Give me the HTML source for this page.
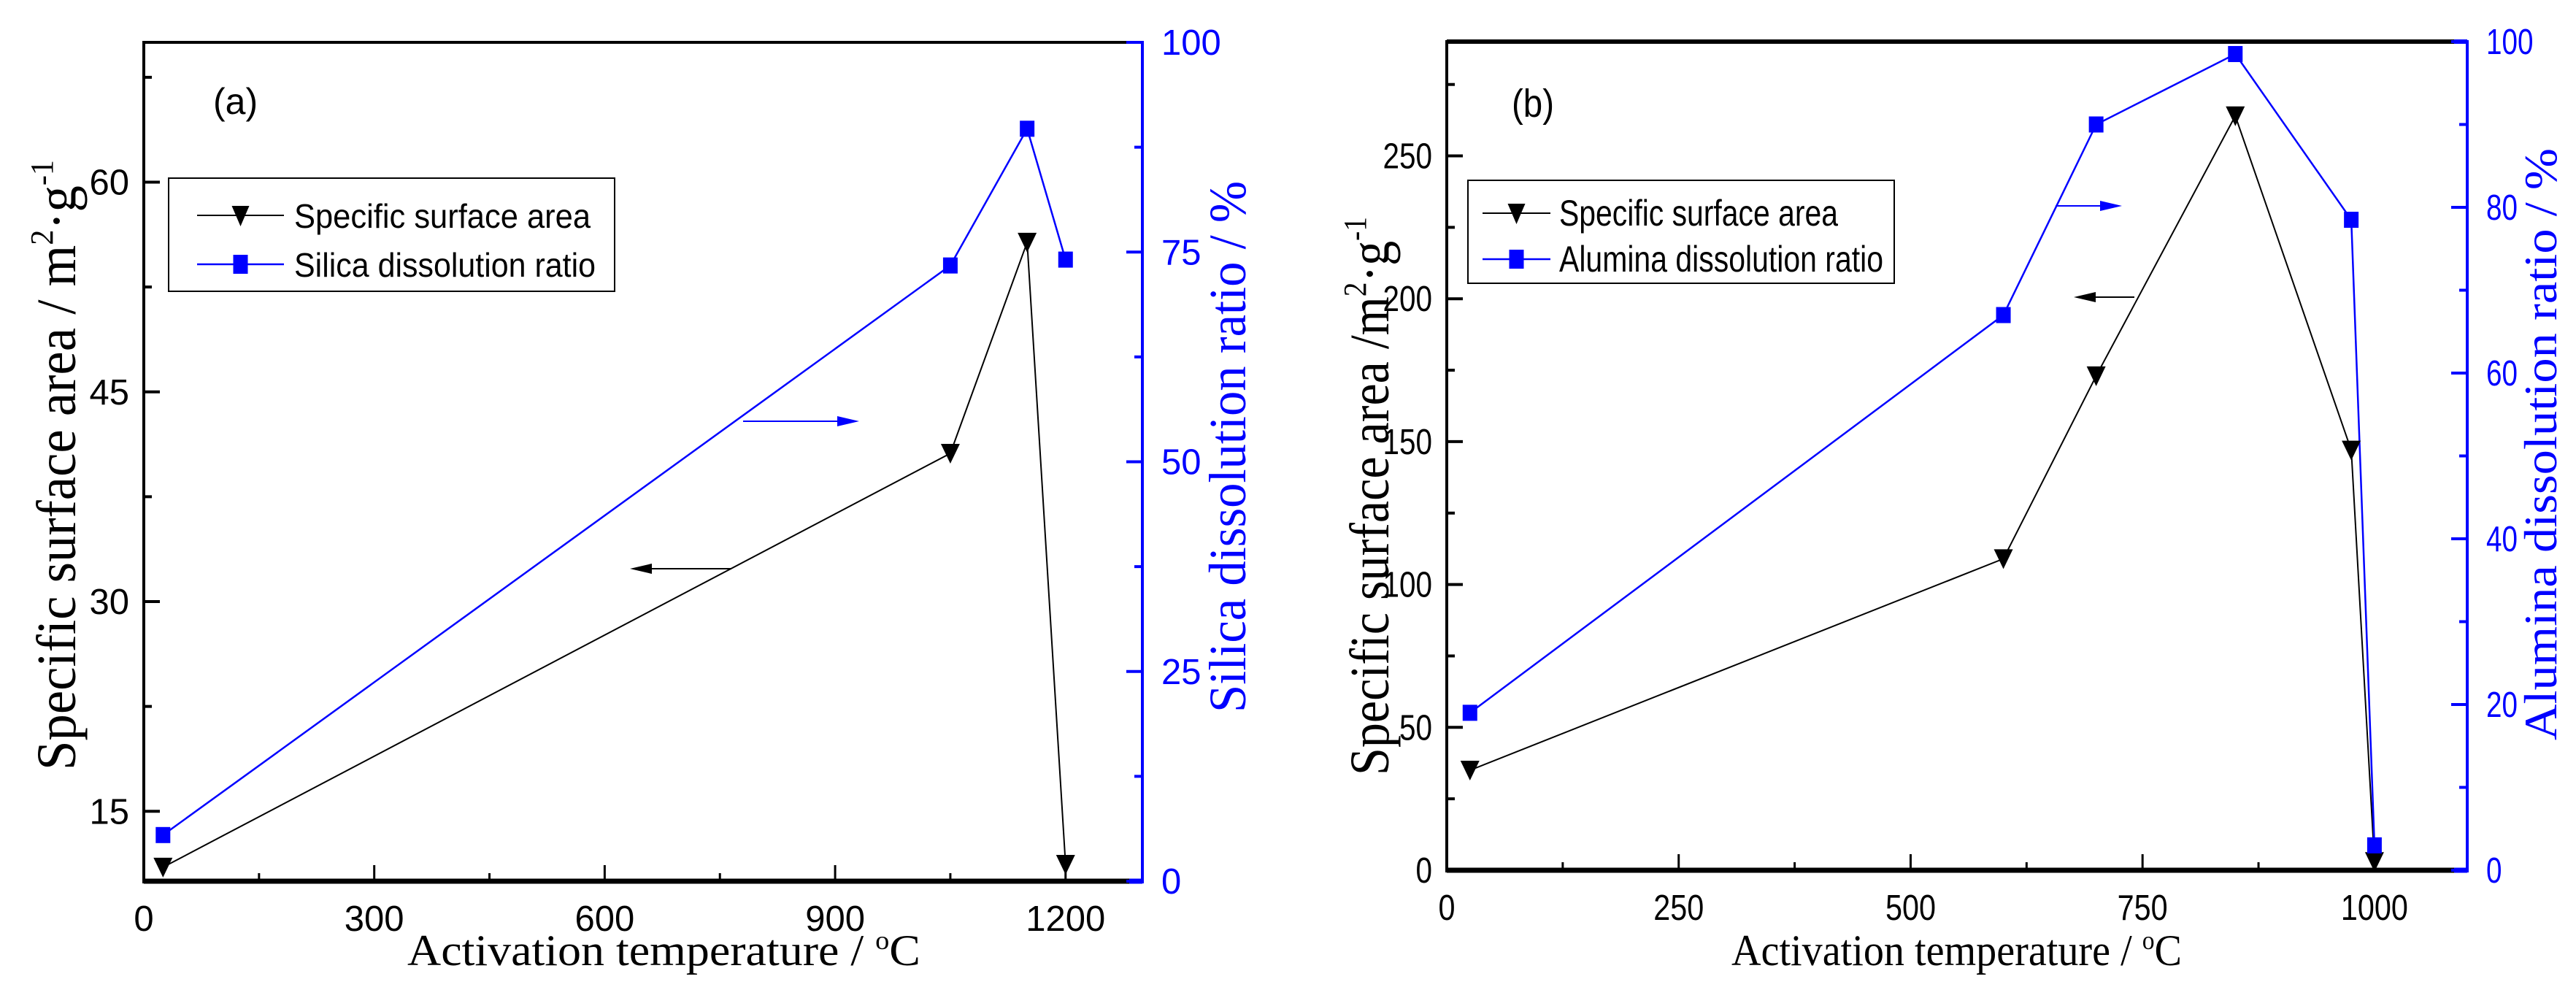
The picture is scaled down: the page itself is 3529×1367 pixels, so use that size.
<!DOCTYPE html>
<html><head><meta charset="utf-8"><style>html,body{margin:0;padding:0;background:#fff}svg{display:block}</style></head>
<body>
<svg id="chart" width="3529" height="1367" viewBox="0 0 3529 1367" xmlns="http://www.w3.org/2000/svg" font-family="Liberation Sans, Arial, sans-serif">
<g id="pa"></g>
<g id="pb"></g>
</svg>
<script>
// Panel (a) data
const aTemps = [25, 1050, 1150, 1200];
const aSurface = [11.0, 40.6, 55.7, 11.2];
const aSilica = [5.5, 73.4, 89.7, 74.1];
const aXTicks = [0, 300, 600, 900, 1200];
const aYLeftTicks = [15, 30, 45, 60];
const aYRightTicks = [0, 25, 50, 75, 100];
// Panel (b) data
const bTemps = [25, 600, 700, 850, 975, 1000];
const bSurface = [35, 109, 173, 264, 147, 3];
const bAlumina = [19, 67, 90, 98.5, 78.5, 3];
const bXTicks = [0, 250, 500, 750, 1000];
const bYLeftTicks = [0, 50, 100, 150, 200, 250];
const bYRightTicks = [0, 20, 40, 60, 80, 100];

const NS = 'http://www.w3.org/2000/svg';
function mk(parent, tag, attrs, text) {
  const e = document.createElementNS(NS, tag);
  for (const k in attrs) e.setAttribute(k, attrs[k]);
  if (text !== undefined) e.textContent = text;
  parent.appendChild(e);
  return e;
}
function lin(d0, d1, r0, r1) { return v => r0 + (v - d0) / (d1 - d0) * (r1 - r0); }

function panel(g, cfg) {
  const X = lin(cfg.xmin, cfg.xmax, cfg.L, cfg.R);
  const YL = lin(cfg.ylmin, cfg.ylmax, cfg.B, cfg.T);
  const YR = lin(0, 100, cfg.B, cfg.T);
  // frame
  let e;
  e = mk(g, 'line', {x1: cfg.L, y1: cfg.T, x2: cfg.R, y2: cfg.T, stroke: '#000', 'stroke-width': cfg.topW});
   
  e = mk(g, 'line', {x1: cfg.L, y1: cfg.T - 2, x2: cfg.L, y2: cfg.B + 3, stroke: '#000', 'stroke-width': 4});
   
  e = mk(g, 'line', {x1: cfg.L, y1: cfg.B, x2: cfg.R, y2: cfg.B, stroke: '#000', 'stroke-width': 7});
   
  e = mk(g, 'line', {x1: cfg.R - 18, y1: cfg.B, x2: cfg.R, y2: cfg.B, stroke: '#00f', 'stroke-width': 7});
   
  e = mk(g, 'line', {x1: cfg.R, y1: cfg.T - 2, x2: cfg.R, y2: cfg.B + 3, stroke: '#00f', 'stroke-width': 4});
   
  e = mk(g, 'line', {x1: cfg.R - 18, y1: cfg.T, x2: cfg.R, y2: cfg.T, stroke: '#00f', 'stroke-width': cfg.topW});
   

  // x ticks
  const xs = cfg.xTicks;
  const xstep = xs[1] - xs[0];
  for (let v = cfg.xmin; v <= cfg.xmax + 1e-6; v += xstep / 2) {
    const major = xs.includes(v);
    const x = X(v);
    e = mk(g, 'line', {x1: x, y1: cfg.B, x2: x, y2: cfg.B - (major ? 22 : 11), stroke: '#000', 'stroke-width': 3});
     
  }
  xs.forEach(v => {
    const attrs = {x: X(v), y: cfg.B + 68, 'text-anchor': 'middle', 'font-size': 49, fill: '#000'};
    if (cfg.cond) { attrs.textLength = String(v).length * 23; attrs.lengthAdjust = 'spacingAndGlyphs'; }
    e = mk(g, 'text', attrs, String(v));
     
  });
  // left y ticks
  const yl = cfg.ylTicks; const ylstep = yl[1] - yl[0];
  for (let v = yl[0] - ylstep * Math.floor((yl[0] - cfg.ylmin) / (ylstep / 2)) / 2; v <= cfg.ylmax + 1e-6; v += ylstep / 2) {
    if (v < cfg.ylmin - 1e-6) continue;
    const major = yl.some(t => Math.abs(t - v) < 1e-6);
    const y = YL(v);
    e = mk(g, 'line', {x1: cfg.L, y1: y, x2: cfg.L + (major ? 22 : 11), y2: y, stroke: '#000', 'stroke-width': 4});
     
  }
  yl.forEach(v => {
    const attrs = {x: cfg.L - 20, y: YL(v) + 17, 'text-anchor': 'end', 'font-size': 49, fill: '#000'};
    if (cfg.cond) { attrs.textLength = String(v).length * 22.5; attrs.lengthAdjust = 'spacingAndGlyphs'; }
    e = mk(g, 'text', attrs, String(v));
     
  });
  // right y ticks
  const yr = cfg.yrTicks; const yrstep = yr[1] - yr[0];
  for (let v = 0; v <= 100 + 1e-6; v += yrstep / 2) {
    const major = yr.some(t => Math.abs(t - v) < 1e-6);
    const y = YR(v);
    e = mk(g, 'line', {x1: cfg.R, y1: y, x2: cfg.R - (major ? 22 : 11), y2: y, stroke: '#00f', 'stroke-width': 4});
     
  }
  yr.forEach(v => {
    const attrs = {x: cfg.R + 26, y: YR(v) + 17, 'text-anchor': 'start', 'font-size': 49, fill: '#00f'};
    if (cfg.cond) { attrs.textLength = String(v).length * 21.5; attrs.lengthAdjust = 'spacingAndGlyphs'; }
    e = mk(g, 'text', attrs, String(v));
     
  });

  // series lines
  const sp = cfg.temps.map((t, i) => X(t) + ',' + YL(cfg.surface[i])).join(' ');
  e = mk(g, 'polyline', {points: sp, fill: 'none', stroke: '#000', 'stroke-width': 2});
   
  const dp = cfg.temps.map((t, i) => X(t) + ',' + YR(cfg.diss[i])).join(' ');
  e = mk(g, 'polyline', {points: dp, fill: 'none', stroke: '#00f', 'stroke-width': 2.5});
   
  cfg.temps.forEach((t, i) => {
    const x = X(t), y = YL(cfg.surface[i]);
    e = mk(g, 'polygon', {points: `${x-13},${y-13} ${x+13},${y-13} ${x},${y+14}`, fill: '#000'});
     
    const y2 = YR(cfg.diss[i]);
    e = mk(g, 'rect', {x: x - 10, y: y2 - 11, width: 20, height: 22, fill: '#00f'});
     
  });
}

function txt(g, name, attrs, parts) {
  const e = mk(g, 'text', attrs);
  parts.forEach(p => {
    if (typeof p === 'string') { e.appendChild(document.createTextNode(p)); }
    else { const t = mk(e, 'tspan', {'baseline-shift': p.s, 'font-size': p.fs}, p.t); }
  });
  
  
  return e;
}
function arrow(g, name, x1, x2, y, color) {
  const dir = x2 > x1 ? 1 : -1;
  let e = mk(g, 'line', {x1: x1, y1: y, x2: x2 - dir * 26, y2: y, stroke: color, 'stroke-width': 2});
   
  e = mk(g, 'polygon', {points: `${x2},${y} ${x2 - dir*30},${y-7} ${x2 - dir*30},${y+7}`, fill: color});
   
}
function legend(g, bx, by, bw, bh, lx1, lx2, tx, ty1, ty2, l1, l2, w1, w2, fs) {
  const lg = mk(g, 'g', {});
   
  let e = mk(lg, 'rect', {x: bx, y: by, width: bw, height: bh, fill: '#fff', stroke: '#000', 'stroke-width': 2});
   
  const mx = (lx1 + lx2) / 2;
  e = mk(lg, 'line', {x1: lx1, y1: ty1, x2: lx2, y2: ty1, stroke: '#000', 'stroke-width': 2});
   
  e = mk(lg, 'polygon', {points: `${mx-12},${ty1-13} ${mx+12},${ty1-13} ${mx},${ty1+15}`, fill: '#000'});
   
  e = mk(lg, 'line', {x1: lx1, y1: ty2, x2: lx2, y2: ty2, stroke: '#00f', 'stroke-width': 2.5});
   
  e = mk(lg, 'rect', {x: mx - 10, y: ty2 - 13, width: 20, height: 26, fill: '#00f'});
   
  txt(lg, 'legend-surface-label', {x: tx, y: ty1 + 17, 'font-size': fs, textLength: w1, lengthAdjust: 'spacingAndGlyphs'}, [l1]);
  txt(lg, 'legend-dissolution-label', {x: tx, y: ty2 + 17, 'font-size': fs, textLength: w2, lengthAdjust: 'spacingAndGlyphs'}, [l2]);
}

const ga = document.getElementById('pa');
panel(ga, {L: 197, R: 1565, T: 58, B: 1207, xmin: 0, xmax: 1300, ylmin: 10, ylmax: 70,
  xTicks: aXTicks, ylTicks: aYLeftTicks, yrTicks: aYRightTicks, temps: aTemps, surface: aSurface, diss: aSilica, cond: false, topW: 4});
txt(ga, 'panel-a-label', {x: 292, y: 156, 'font-size': 50}, ['(a)']);
legend(ga, 231, 244, 611, 155, 270, 389, 403, 295, 362, 'Specific surface area', 'Silica dissolution ratio', 406, 413, 46);
arrow(ga, 'right-axis-arrow', 1018, 1177, 577, '#00f');
arrow(ga, 'left-axis-arrow', 1002, 863, 779, '#000');
txt(ga, 'x-axis-title', {x: 558, y: 1322, 'font-size': 60, 'font-family': 'Liberation Serif, serif', textLength: 703, lengthAdjust: 'spacingAndGlyphs'},
  ['Activation temperature / ', {t: 'o', s: '60%', fs: 36}, 'C']);
txt(ga, 'left-y-axis-title', {x: 0, y: 0, transform: 'translate(103,1055) rotate(-90)', 'font-size': 76, 'font-family': 'Liberation Serif, serif', textLength: 836, lengthAdjust: 'spacingAndGlyphs'},
  ['Specific surface area / m', {t: '2', s: '70%', fs: 44}, '·g', {t: '-1', s: '70%', fs: 44}]);
txt(ga, 'right-y-axis-title', {x: 0, y: 0, transform: 'translate(1706,976) rotate(-90)', 'font-size': 72, fill: '#00f', 'font-family': 'Liberation Serif, serif', textLength: 728, lengthAdjust: 'spacingAndGlyphs'},
  ['Silica dissolution ratio / %']);

const gb = document.getElementById('pb');
panel(gb, {L: 1982, R: 3380, T: 57, B: 1192, xmin: 0, xmax: 1100, ylmin: 0, ylmax: 290,
  xTicks: bXTicks, ylTicks: bYLeftTicks, yrTicks: bYRightTicks, temps: bTemps, surface: bSurface, diss: bAlumina, cond: true, topW: 6});
txt(gb, 'panel-b-label', {x: 2071, y: 160, 'font-size': 54, textLength: 58, lengthAdjust: 'spacingAndGlyphs'}, ['(b)']);
legend(gb, 2011, 247, 584, 141, 2031, 2124, 2136, 292, 355, 'Specific surface area', 'Alumina dissolution ratio', 382, 444, 50);
arrow(gb, 'right-axis-arrow', 2816, 2907, 282, '#00f');
arrow(gb, 'left-axis-arrow', 2924, 2841, 407, '#000');
txt(gb, 'x-axis-title', {x: 2372, y: 1322, 'font-size': 60, 'font-family': 'Liberation Serif, serif', textLength: 617, lengthAdjust: 'spacingAndGlyphs'},
  ['Activation temperature / ', {t: 'o', s: '60%', fs: 36}, 'C']);
txt(gb, 'left-y-axis-title', {x: 0, y: 0, transform: 'translate(1902,1062) rotate(-90)', 'font-size': 76, 'font-family': 'Liberation Serif, serif', textLength: 765, lengthAdjust: 'spacingAndGlyphs'},
  ['Specific surface area /m', {t: '2', s: '70%', fs: 44}, '·g', {t: '-1', s: '70%', fs: 44}]);
txt(gb, 'right-y-axis-title', {x: 0, y: 0, transform: 'translate(3502,1014) rotate(-90)', 'font-size': 64, fill: '#00f', 'font-family': 'Liberation Serif, serif', textLength: 811, lengthAdjust: 'spacingAndGlyphs'},
  ['Alumina dissolution ratio / %']);
</script>
</body></html>
